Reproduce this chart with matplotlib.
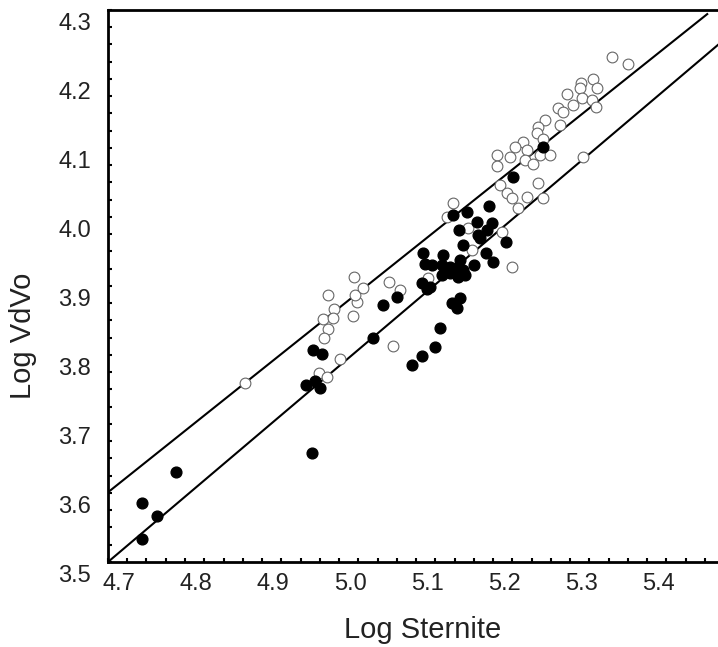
import matplotlib
matplotlib.use("Agg")
import matplotlib.pyplot as plt
from matplotlib.ticker import MultipleLocator, FormatStrFormatter
from matplotlib.transforms import ScaledTranslation

plt.rcParams['font.family'] = ['Liberation Sans', 'DejaVu Sans']

# -------- Data -------- #
filled_x = [4.744, 4.764, 4.744, 4.788, 4.965, 4.966, 4.978, 4.957, 4.969, 4.975,
            5.044, 5.057, 5.075, 5.095, 5.108, 5.109, 5.112, 5.108, 5.114, 5.148,
            5.166, 5.179, 5.195, 5.199, 5.192, 5.156, 5.181, 5.183, 5.161, 5.217,
            5.191, 5.200, 5.175, 5.121, 5.135, 5.134, 5.138, 5.144, 5.157, 5.155,
            5.161, 5.164, 5.155, 5.144, 5.134, 5.118, 5.157, 5.147, 5.153, 5.131,
            5.125, 5.265, 5.226]
filled_y = [3.586, 3.567, 3.533, 3.630, 3.658, 3.807, 3.801, 3.757, 3.762, 3.752,
            3.825, 3.872, 3.884, 3.786, 3.799, 3.948, 3.932, 3.904, 3.896, 4.003,
            4.007, 3.993, 4.016, 3.991, 3.981, 3.981, 3.974, 3.970, 3.959, 3.964,
            3.948, 3.935, 3.930, 3.930, 3.945, 3.930, 3.923, 3.928, 3.938, 3.928,
            3.923, 3.916, 3.913, 3.919, 3.916, 3.899, 3.883, 3.875, 3.868, 3.839,
            3.812, 4.101, 4.058]

open_x = [4.878, 4.986, 5.019, 4.994, 4.979, 4.992, 4.986, 4.981, 5.023, 5.021,
          5.031, 5.018, 5.001, 4.974, 4.984, 5.065, 5.079, 5.070, 5.148, 5.140,
          5.168, 5.173, 5.212, 5.225, 5.116, 5.209, 5.218, 5.225, 5.244, 5.232,
          5.258, 5.265, 5.355, 5.375, 5.330, 5.335, 5.314, 5.313, 5.296, 5.316,
          5.304, 5.329, 5.334, 5.284, 5.291, 5.268, 5.258, 5.287, 5.257, 5.265,
          5.239, 5.229, 5.244, 5.261, 5.274, 5.205, 5.222, 5.242, 5.252, 5.205,
          5.317]
open_y = [3.759, 3.887, 3.913, 3.867, 3.852, 3.854, 3.838, 3.825, 3.877, 3.887,
          3.897, 3.857, 3.794, 3.774, 3.768, 3.906, 3.894, 3.813, 4.020, 4.000,
          3.984, 3.952, 3.978, 3.928, 3.912, 4.046, 4.035, 4.028, 4.029, 4.013,
          4.049, 4.028, 4.232, 4.222, 4.200, 4.187, 4.194, 4.187, 4.178, 4.172,
          4.162, 4.170, 4.159, 4.158, 4.152, 4.141, 4.130, 4.133, 4.122, 4.113,
          4.109, 4.101, 4.097, 4.090, 4.090, 4.090, 4.087, 4.083, 4.077, 4.074,
          4.087]

# regression lines (end points)
upper_x = [4.7, 5.478]
upper_y = [3.601, 4.294]
lower_x = [4.7, 5.50]
lower_y = [3.500, 4.257]

# -------- Plot -------- #
fig = plt.figure(figsize=(7.18, 6.47), dpi=100)
ax = fig.add_axes([0.1504, 0.1314, 0.8496, 0.8532])

ax.plot(upper_x, upper_y, color='black', lw=1.5, zorder=2)
ax.plot(lower_x, lower_y, color='black', lw=1.5, zorder=2)

ax.scatter(open_x, open_y, s=60, facecolor='white', edgecolor='#666666',
           linewidth=0.8, zorder=3)
ax.scatter(filled_x, filled_y, s=60, color='black', zorder=4)

ax.set_xlim(4.7, 5.492)
ax.set_ylim(3.5, 4.3)

for side in ['top', 'left', 'bottom']:
    ax.spines[side].set_linewidth(2)
ax.spines['right'].set_visible(False)

ax.xaxis.set_major_locator(MultipleLocator(0.1))
ax.xaxis.set_minor_locator(MultipleLocator(0.025))
ax.yaxis.set_major_locator(MultipleLocator(0.1))
ax.yaxis.set_minor_locator(MultipleLocator(0.025))
ax.xaxis.set_major_formatter(FormatStrFormatter('%.1f'))
ax.yaxis.set_major_formatter(FormatStrFormatter('%.1f'))
ax.tick_params(which='both', direction='in', length=3, width=1.5,
               top=False, right=False, labelsize=17, labelcolor='#222222')
ax.tick_params(axis='x', pad=8)
ax.tick_params(axis='y', pad=12)

# tick labels sit offset from their ticks in the original
fig.canvas.draw()
for lab in ax.get_xticklabels():
    lab.set_transform(lab.get_transform() + ScaledTranslation(0.11, 0, fig.dpi_scale_trans))
for lab in ax.get_yticklabels():
    lab.set_transform(lab.get_transform() + ScaledTranslation(0, -0.12, fig.dpi_scale_trans))

ax.set_xlabel("Log Sternite", fontsize=21, color='#222222')
ax.set_ylabel("Log VdVo", fontsize=21, color='#222222')
ax.xaxis.set_label_coords(0.515, -0.098)
ax.yaxis.set_label_coords(-0.116, 0.41)

fig.savefig("out.png", dpi=100)
